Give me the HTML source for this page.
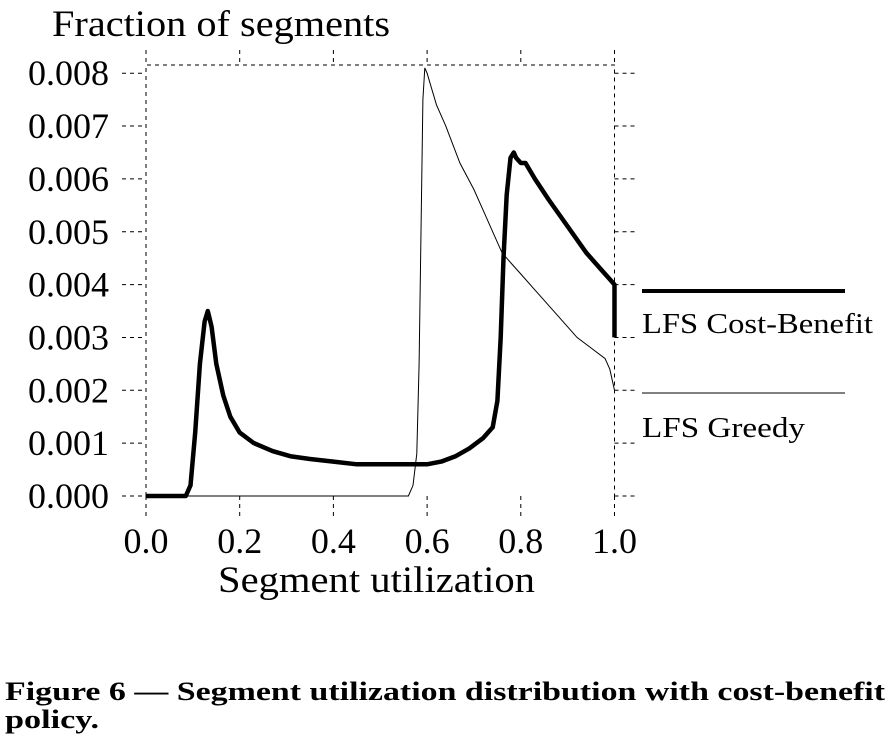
<!DOCTYPE html>
<html><head><meta charset="utf-8"><style>
body{margin:0;background:#fff;width:892px;height:744px;overflow:hidden;font-family:"Liberation Serif",serif}
svg text{font-family:"Liberation Serif",serif}
</style></head><body>
<svg id="chart" width="892" height="744" viewBox="0 0 892 744" xmlns="http://www.w3.org/2000/svg" style="display:block">
<text x="52" y="36" font-size="37" textLength="338" lengthAdjust="spacingAndGlyphs">Fraction of segments</text>
<text x="218" y="592" font-size="37" textLength="317" lengthAdjust="spacingAndGlyphs">Segment utilization</text>
<g id="axes"></g>
<g id="series"></g>
<line x1="642" y1="291" x2="845" y2="291" stroke="#000" stroke-width="4"/>
<text x="642" y="333" font-size="28" textLength="231" lengthAdjust="spacingAndGlyphs">LFS Cost-Benefit</text>
<line x1="642" y1="393" x2="845" y2="393" stroke="#000" stroke-width="1"/>
<text x="642" y="437" font-size="28" textLength="163" lengthAdjust="spacingAndGlyphs">LFS Greedy</text>
<text x="5" y="700" font-size="26" font-weight="bold" textLength="880" lengthAdjust="spacingAndGlyphs">Figure 6 — Segment utilization distribution with cost-benefit</text>
<text x="5" y="728" font-size="26" font-weight="bold" textLength="94" lengthAdjust="spacingAndGlyphs">policy.</text>
</svg>
<script>
const xTicks=[0,0.2,0.4,0.6,0.8,1.0];
const xTickLabels=["0.0","0.2","0.4","0.6","0.8","1.0"];
const yTicks=[0,0.001,0.002,0.003,0.004,0.005,0.006,0.007,0.008];
const yTickLabels=["0.000","0.001","0.002","0.003","0.004","0.005","0.006","0.007","0.008"];
const cbX=[0,0.085,0.095,0.105,0.115,0.125,0.132,0.14,0.15,0.165,0.18,0.2,0.23,0.27,0.31,0.35,0.4,0.45,0.5,0.55,0.6,0.63,0.66,0.69,0.72,0.74,0.75,0.757,0.763,0.77,0.778,0.785,0.79,0.8,0.81,0.83,0.86,0.9,0.94,0.97,0.99,1.0,1.0];
const cbY=[0,0,0.0002,0.0012,0.0025,0.0033,0.0035,0.0032,0.0025,0.0019,0.0015,0.0012,0.001,0.00085,0.00075,0.0007,0.00065,0.0006,0.0006,0.0006,0.0006,0.00065,0.00075,0.0009,0.0011,0.0013,0.0018,0.003,0.0045,0.0057,0.0064,0.0065,0.0064,0.0063,0.0063,0.006,0.0056,0.0051,0.0046,0.0043,0.0041,0.004,0.003];
const grX=[0,0.56,0.57,0.578,0.583,0.587,0.591,0.595,0.6,0.61,0.62,0.64,0.67,0.7,0.72,0.74,0.76,0.78,0.8,0.83,0.86,0.89,0.92,0.95,0.98,0.99,1.0];
const grY=[0,0,0.0002,0.0008,0.0025,0.005,0.0075,0.0081,0.008,0.0077,0.0074,0.007,0.0063,0.0058,0.0054,0.005,0.0046,0.0044,0.0042,0.0039,0.0036,0.0033,0.003,0.0028,0.0026,0.0024,0.002];
const X0=146,X1=614.5,Y0=496,PER=52.85;
const xs=v=>X0+v*(X1-X0);
const ys=v=>Y0-v*1000*PER;
const NS="http://www.w3.org/2000/svg";
const axes=document.getElementById('axes'),series=document.getElementById('series');
function mk(tag,attrs,parent){const e=document.createElementNS(NS,tag);for(const k in attrs)e.setAttribute(k,attrs[k]);parent.appendChild(e);return e;}
const dash={stroke:"#000","stroke-width":1,"stroke-dasharray":"4,4",fill:"none"};
let f=mk('path',Object.assign({d:`M${X0},${Y0}V65H${X1}V${Y0}`},dash),axes);


xTicks.forEach((t,i)=>{
 let l=mk('line',Object.assign({x1:xs(t),x2:xs(t),y1:50,y2:65},dash),axes);
 
 
 let b=mk('line',Object.assign({x1:xs(t),x2:xs(t),y1:Y0,y2:520},dash),axes);
 
 
 let tx=mk('text',{x:xs(t),y:553,"font-size":36,"text-anchor":"middle"},axes);
 tx.textContent=xTickLabels[i];
 
 
});
yTicks.forEach((t,i)=>{
 let l=mk('line',Object.assign({x1:122,x2:X0,y1:ys(t),y2:ys(t)},dash),axes);
 
 
 let r=mk('line',Object.assign({x1:X1,x2:638,y1:ys(t),y2:ys(t)},dash),axes);
 
 
 let tx=mk('text',{x:109,y:ys(t)+12,"font-size":36,"text-anchor":"end"},axes);
 tx.textContent=yTickLabels[i];
 
 
});
function path(X,Y){return X.map((x,i)=>(i?'L':'M')+xs(x).toFixed(1)+','+ys(Y[i]).toFixed(1)).join('');}
let g=mk('path',{d:path(grX,grY),stroke:"#000","stroke-width":1,fill:"none"},series);


let c=mk('path',{d:path(cbX,cbY),stroke:"#000","stroke-width":4.5,fill:"none","stroke-linejoin":"round"},series);


</script>
</body></html>
